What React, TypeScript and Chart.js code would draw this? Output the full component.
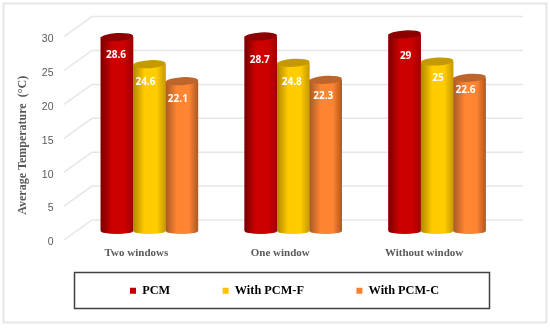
import React, { useEffect, useRef } from "react";
import { Chart, registerables } from "chart.js";

Chart.register(...registerables);

const categories = ["Two windows", "One window", "Without window"];
const pcm = [28.6, 28.7, 29];
const withPcmF = [24.6, 24.8, 25];
const withPcmC = [22.1, 22.3, 22.6];
const seriesNames = ["PCM", "With PCM-F", "With PCM-C"];
const seriesColors = ["#C00000", "#FFC000", "#F58233"];
const yTicksMax = 30;

// Look of each cylinder: [left edge, lit part, right edge, top cap]
const shades = [
  ["#7A0000", "#CC0000", "#A00000", "#8E0000"],
  ["#B38600", "#FFCC00", "#C79A00", "#C49A00"],
  ["#A85A25", "#FF8533", "#A85A25", "#BD652B"],
];
// Small horizontal / vertical shifts of the value labels seen in the picture
const labelShiftX = [
  [-1, -4, -4],
  [-1, -1.5, -2.5],
  [1, 1, -4],
];
const labelShiftY = [
  [18, 18, 18],
  [24, 19, 16],
  [22, 17, 12],
];

const frameColor = "#E6E6E6";
const gridColor = "#E6E6E6";
const textGrey = "#595959";
const wallDx = 28;
const wallRight = 523;
const tickDrop = 9;
const wallLift = 11;
const legendGap = 52.5;

const decor = {
  id: "decor",
  beforeLayout(chart: any) {
    const lg = chart.legend;
    if (!lg.__flat) {
      lg.__flat = true;
      const fit = lg.fit;
      lg.fit = function () {
        fit.call(this);
        this.height = 0;
      };
    }
  },
  afterLayout(chart: any) {
    const lg = chart.legend;
    lg.left = 130 - legendGap;
    lg.right = 550;
    lg.top = 291 - legendGap - 6.5;
    lg.bottom = 328;
    lg.width = 476;
    lg.height = 100;
    const y = chart.scales.y;
    if (!y.__moved) {
      y.__moved = true;
      const original = y.drawTitle;
      y.drawTitle = function () {
        chart.ctx.save();
        chart.ctx.translate(0, 16);
        original.call(this);
        chart.ctx.restore();
      };
    }
  },
  beforeDraw(chart: any) {
    const { ctx } = chart;
    const y = chart.scales.y;
    ctx.save();
    ctx.fillStyle = "#FFFFFF";
    ctx.fillRect(0, 0, chart.width, chart.height);
    ctx.strokeStyle = frameColor;
    ctx.lineWidth = 2;
    ctx.strokeRect(3.5, 3.5, 543, 319);
    ctx.strokeStyle = gridColor;
    ctx.lineWidth = 1.5;
    const x0 = 64;
    y.ticks.forEach((t: any) => {
      const p = y.getPixelForValue(t.value);
      ctx.beginPath();
      ctx.moveTo(x0, p + tickDrop);
      ctx.lineTo(x0 + wallDx, p - wallLift);
      ctx.lineTo(wallRight, p - wallLift);
      ctx.stroke();
    });
    ctx.strokeStyle = "#404040";
    ctx.lineWidth = 1.5;
    ctx.strokeRect(74.5, 272.5, 415, 36);
    ctx.restore();
  },
  afterDatasetsDraw(chart: any) {
    const { ctx } = chart;
    chart.data.datasets.forEach((ds: any, i: number) => {
      const meta = chart.getDatasetMeta(i);
      meta.data.forEach((el: any) => {
        const w = el.width;
        const l = el.x - w / 2;
        const r = el.x + w / 2;
        const rx = w / 2;
        const g = ctx.createLinearGradient(l, 0, r, 0);
        g.addColorStop(0, shades[i][0]);
        g.addColorStop(0.35, shades[i][1]);
        g.addColorStop(0.72, shades[i][1]);
        g.addColorStop(1, shades[i][2]);
        ctx.save();
        ctx.fillStyle = g;
        ctx.beginPath();
        ctx.moveTo(l, el.y);
        ctx.lineTo(l, el.base);
        ctx.ellipse(el.x, el.base, rx, 3, 0, Math.PI, 0, true);
        ctx.lineTo(r, el.y);
        ctx.closePath();
        ctx.fill();
        ctx.fillStyle = shades[i][3];
        ctx.beginPath();
        ctx.ellipse(el.x, el.y, rx, 4, -0.06, 0, Math.PI * 2);
        ctx.fill();
        ctx.restore();
      });
    });
    chart.data.datasets.forEach((ds: any, i: number) => {
      const meta = chart.getDatasetMeta(i);
      meta.data.forEach((el: any, j: number) => {
        ctx.save();
        ctx.fillStyle = "#FFFFFF";
        ctx.font = "bold 10px 'Open Sans'";
        ctx.textAlign = "center";
        ctx.textBaseline = "middle";
        ctx.fillText(String(ds.data[j]), el.x + labelShiftX[j][i], el.y + labelShiftY[j][i]);
        ctx.restore();
      });
    });
  },
};

export default function App() {
  const ref = useRef<HTMLCanvasElement>(null);
  useEffect(() => {
    const values = [pcm, withPcmF, withPcmC];
    const chart = new Chart(ref.current as HTMLCanvasElement, {
      type: "bar",
      data: {
        labels: categories,
        datasets: seriesNames.map((name, i) => ({
          label: name,
          data: values[i],
          backgroundColor: seriesColors[i],
          borderWidth: 0,
          barPercentage: 1,
          categoryPercentage: 0.677,
        })),
      },
      options: {
        animation: false,
        responsive: false,
        layout: { padding: { top: 27.6, bottom: 67, left: 0, right: 41 } },
        plugins: {
          tooltip: { enabled: false },
          title: { display: false },
          legend: {
            display: true,
            position: "bottom",
            align: "start",
            labels: {
              boxWidth: 6,
              boxHeight: 6,
              padding: legendGap,
              color: "#000000",
              font: { family: "'Liberation Serif'", size: 12.3, weight: "bold" },
            },
          },
        },
        scales: {
          x: {
            afterFit: (s: any) => {
              s.height = 30;
            },
            grid: { display: false },
            border: { display: false },
            ticks: {
              color: textGrey,
              padding: 8,
              labelOffset: -13,
              maxRotation: 0,
              autoSkip: false,
              font: { family: "'Liberation Serif'", size: 11, weight: "bold" },
            },
          },
          y: {
            min: 0,
            max: yTicksMax,
            afterFit: (s: any) => {
              s.width = 77.5;
            },
            grid: { display: false },
            border: { display: false },
            title: {
              display: true,
              text: "Average Temperature  (°C)",
              color: textGrey,
              padding: { top: 16, bottom: 0 },
              font: { family: "'Liberation Serif'", size: 12, weight: "bold" },
            },
            ticks: {
              stepSize: 5,
              color: textGrey,
              padding: 16,
              labelOffset: tickDrop + 2.5,
              font: { family: "'Liberation Sans'", size: 10.5 },
            },
          },
        },
      },
      plugins: [decor],
    } as any);
    return () => chart.destroy();
  }, []);
  return (
    <div style={{ position: "absolute", left: 0, top: 0, width: 550, height: 328 }}>
      <canvas ref={ref} width={550} height={328} style={{ display: "block" }} />
    </div>
  );
}
